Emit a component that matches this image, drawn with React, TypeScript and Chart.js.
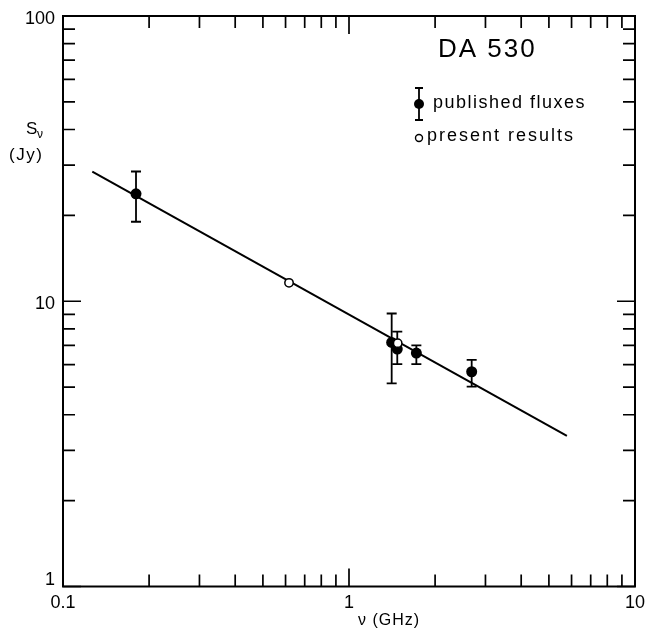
import React, { useEffect, useRef } from "react";
import { Chart, registerables } from "chart.js";

Chart.register(...registerables);

// Published fluxes (filled circles with error bars)
const publishedFreq = [0.18, 1.41, 1.475, 1.72, 2.685];
const publishedFlux = [23.8, 7.17, 6.8, 6.58, 5.66];
const publishedErrLow = [19.0, 5.15, 6.02, 6.02, 5.02];
const publishedErrHigh = [28.5, 9.06, 7.83, 7.0, 6.23];

// Present results (open circles)
const presentFreq = [0.617, 1.48];
const presentFlux = [11.6, 7.13];

// Fitted power-law line (end points)
const fitFreq = [0.1266, 5.78];
const fitFlux = [28.5, 3.37];

// Axis ticks
const xMajorTicks = [0.1, 1, 10];
const xTickLabels = ["0.1", "1", "10"];
const yMajorTicks = [1, 10, 100];
const yTickLabels = ["1", "10", "100"];

const title = "DA 530";
const legendPublished = "published fluxes";
const legendPresent = "present results";

const FONT = "'Liberation Sans', Arial, Helvetica, sans-serif";

function minorTicks(min: number, max: number): number[] {
  const out: number[] = [];
  for (let d = min; d < max; d *= 10) {
    for (let k = 2; k <= 9; k++) out.push(d * k);
  }
  return out;
}

const decorPlugin = {
  id: "decor",
  beforeDatasetsDraw(chart: any) {
    const ctx = chart.ctx;
    const xs = chart.scales.x;
    const ys = chart.scales.y;
    ctx.save();
    ctx.strokeStyle = "#000";
    ctx.lineWidth = 1.8;
    const cap = 5;
    publishedFreq.forEach((f, i) => {
      const px = xs.getPixelForValue(f);
      const top = ys.getPixelForValue(publishedErrHigh[i]);
      const bot = ys.getPixelForValue(publishedErrLow[i]);
      ctx.beginPath();
      ctx.moveTo(px, top);
      ctx.lineTo(px, bot);
      ctx.moveTo(px - cap, top);
      ctx.lineTo(px + cap, top);
      ctx.moveTo(px - cap, bot);
      ctx.lineTo(px + cap, bot);
      ctx.stroke();
    });
    ctx.restore();
  },
  afterDraw(chart: any) {
    const ctx = chart.ctx;
    const xs = chart.scales.x;
    const ys = chart.scales.y;
    const a = chart.chartArea;
    ctx.save();
    ctx.strokeStyle = "#000";
    ctx.fillStyle = "#000";

    // frame
    ctx.lineWidth = 2;
    ctx.strokeRect(a.left, a.top, a.right - a.left, a.bottom - a.top);

    // ticks (inward)
    ctx.lineWidth = 1.7;
    const majorLen = 18;
    const minorLen = 12;
    const drawX = (v: number, len: number) => {
      const px = xs.getPixelForValue(v);
      ctx.beginPath();
      ctx.moveTo(px, a.bottom);
      ctx.lineTo(px, a.bottom - len);
      ctx.moveTo(px, a.top);
      ctx.lineTo(px, a.top + len);
      ctx.stroke();
    };
    const drawY = (v: number, len: number) => {
      const py = ys.getPixelForValue(v);
      ctx.beginPath();
      ctx.moveTo(a.left, py);
      ctx.lineTo(a.left + len, py);
      ctx.moveTo(a.right, py);
      ctx.lineTo(a.right - len, py);
      ctx.stroke();
    };
    minorTicks(0.1, 10).forEach((v) => drawX(v, minorLen));
    xMajorTicks.forEach((v) => drawX(v, majorLen));
    minorTicks(1, 100).forEach((v) => drawY(v, minorLen));
    yMajorTicks.forEach((v) => drawY(v, majorLen));

    // tick labels
    ctx.font = `18px ${FONT}`;
    ctx.textBaseline = "middle";
    ctx.textAlign = "center";
    xMajorTicks.forEach((v, i) => {
      ctx.fillText(xTickLabels[i], xs.getPixelForValue(v), a.bottom + 17);
    });
    ctx.textAlign = "right";
    yMajorTicks.forEach((v, i) => {
      const py = ys.getPixelForValue(v);
      const off = i === 0 ? -6 : 3;
      ctx.fillText(yTickLabels[i], a.left - 8, py + off);
    });

    // axis titles
    ctx.font = `16px ${FONT}`;
    (ctx as any).letterSpacing = "1px";
    ctx.textAlign = "center";
    ctx.fillText("ν (GHz)", 389, 621);
    ctx.textAlign = "left";
    ctx.font = `17px ${FONT}`;
    ctx.fillText("S", 26, 129);
    ctx.font = `12px ${FONT}`;
    ctx.fillText("ν", 37, 135);
    ctx.font = `17px ${FONT}`;
    (ctx as any).letterSpacing = "1.5px";
    ctx.fillText("(Jy)", 9, 155);

    // title
    ctx.font = `26px ${FONT}`;
    (ctx as any).letterSpacing = "2px";
    ctx.fillText(title, 438, 50);

    // legend
    ctx.font = `18px ${FONT}`;
    const lx = 419;
    ctx.lineWidth = 1.8;
    ctx.beginPath();
    ctx.moveTo(lx, 88);
    ctx.lineTo(lx, 120);
    ctx.moveTo(lx - 4, 88);
    ctx.lineTo(lx + 4, 88);
    ctx.moveTo(lx - 4, 120);
    ctx.lineTo(lx + 4, 120);
    ctx.stroke();
    ctx.beginPath();
    ctx.arc(lx, 104, 5, 0, Math.PI * 2);
    ctx.fill();
    (ctx as any).letterSpacing = "1.5px";
    ctx.fillText(legendPublished, 433, 103);
    ctx.beginPath();
    ctx.lineWidth = 1.4;
    ctx.arc(lx, 138, 3.5, 0, Math.PI * 2);
    ctx.stroke();
    (ctx as any).letterSpacing = "2px";
    ctx.fillText(legendPresent, 427, 136);

    ctx.restore();
  },
};

export default function App() {
  const ref = useRef<HTMLCanvasElement | null>(null);
  useEffect(() => {
    if (!ref.current) return;
    const chart = new Chart(ref.current, {
      type: "scatter",
      data: {
        datasets: [
          {
            label: "present results",
            data: presentFreq.map((x, i) => ({ x, y: presentFlux[i] })),
            pointRadius: 4.2,
            pointBackgroundColor: "#fff",
            pointBorderColor: "#000",
            pointBorderWidth: 1.5,
            order: 0,
          },
          {
            label: "published fluxes",
            data: publishedFreq.map((x, i) => ({ x, y: publishedFlux[i] })),
            pointRadius: 5.5,
            pointBackgroundColor: "#000",
            pointBorderColor: "#000",
            pointBorderWidth: 0,
            order: 1,
          },
          {
            label: "fit",
            data: fitFreq.map((x, i) => ({ x, y: fitFlux[i] })),
            showLine: true,
            borderColor: "#000",
            borderWidth: 2,
            pointRadius: 0,
            order: 2,
          } as any,
        ],
      },
      options: {
        animation: false,
        responsive: false,
        devicePixelRatio: 1,
        layout: { padding: { left: 63, top: 16, right: 11, bottom: 44.5 } },
        plugins: { legend: { display: false }, tooltip: { enabled: false } },
        scales: {
          x: { type: "logarithmic", min: 0.1, max: 10, display: false },
          y: { type: "logarithmic", min: 1, max: 100, display: false },
        },
      },
      plugins: [decorPlugin],
    });
    return () => chart.destroy();
  }, []);
  return (
    <div style={{ position: "fixed", left: 0, top: 0, width: 646, height: 631, background: "#fff" }}>
      <canvas ref={ref} width={646} height={631} style={{ width: 646, height: 631 }} />
    </div>
  );
}
